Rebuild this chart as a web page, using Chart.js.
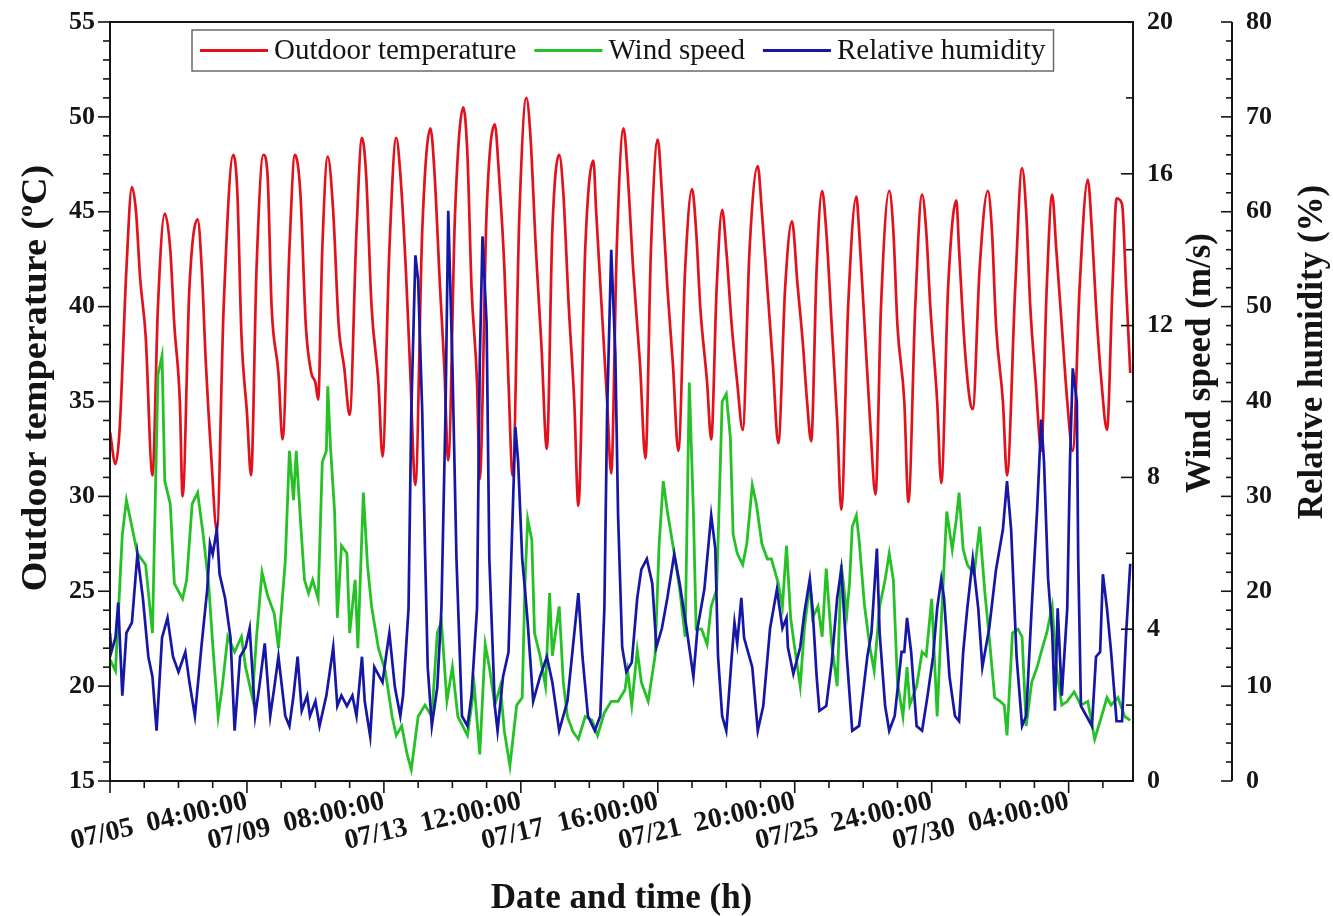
<!DOCTYPE html>
<html>
<head>
<meta charset="utf-8">
<script src="https://cdn.jsdelivr.net/npm/chart.js@4.4.0/dist/chart.umd.min.js"></script>
<style>
  html, body { margin: 0; background: #fff; }
  #wrap { width: 1333px; height: 916px; }
</style>
</head>
<body>
<div id="wrap"><canvas id="climateChart"></canvas></div>
<script>
// hours counted from 07/01 00:00
const xTickHours = [0, 100, 200, 300, 400, 500, 600, 700];
const xTickLabels = ['', '07/05  04:00:00', '07/09  08:00:00', '07/13  12:00:00', '07/17  16:00:00',
                     '07/21  20:00:00', '07/25  24:00:00', '07/30  04:00:00'];

const tempHours = [
  0, 4, 7, 12, 16, 19, 22, 26,
  31, 35, 40, 44, 47, 51,
  53, 58, 64, 67, 70, 74,
  78, 83, 90, 93, 96, 100,
  103, 107, 112, 115, 118, 123,
  126, 131, 135, 139, 143, 147, 150,
  152, 155, 159, 163, 167, 171,
  175, 180, 184, 187, 191, 196,
  199, 204, 209, 212, 216, 219,
  223, 228, 234, 237, 241, 244,
  247, 252, 258, 261, 264, 268,
  270, 275, 281, 284, 288, 291,
  294, 299, 304, 307, 311, 315,
  319, 323, 328, 331, 335, 339,
  342, 347, 353, 355, 359, 363,
  366, 370, 375, 378, 382, 387,
  391, 395, 400, 403, 407, 411,
  415, 420, 425, 428, 431, 436,
  439, 443, 447, 450, 454, 458,
  462, 467, 473, 476, 480, 484,
  488, 493, 498, 502, 506, 509,
  512, 516, 520, 523, 527, 531,
  534, 539, 545, 547, 551, 555,
  559, 563, 569, 572, 575, 580,
  583, 588, 593, 596, 599, 604,
  607, 612, 618, 620, 624, 628,
  630, 635, 641, 644, 647, 652,
  655, 661, 666, 669, 672, 676,
  680, 684, 688, 691, 695, 699,
  703, 708, 714, 717, 720, 724,
  728, 732, 735, 739, 742, 745
];
const tempValues = [
  33.4, 31.7, 33.5, 42, 46.3, 45, 41.5, 38.5,
  31.1, 40, 44.9, 43, 39, 35,
  30.0, 41, 44.6, 42, 37, 32,
  28.2, 40, 48.0, 46, 38.5, 34.4,
  31.1, 42, 48.0, 47, 40, 36.5,
  33.0, 43, 48.0, 46, 39, 36.5, 36,
  35.1, 43, 47.9, 45, 39, 36.8,
  34.3, 44, 48.9, 47, 40, 36,
  32.1, 43, 48.9, 47, 42, 37,
  30.6, 44, 49.4, 47, 41, 37,
  31.9, 45, 50.5, 48, 41, 36,
  30.9, 45, 49.6, 47, 42, 36,
  31.1, 45, 51.0, 49, 43, 38,
  32.5, 44, 48.0, 46, 40, 35,
  29.5, 43, 47.7, 45, 40, 35,
  31.2, 43, 49.4, 47, 42, 37,
  32.0, 43, 48.8, 46, 41, 37,
  32.4, 42, 46.2, 44, 40, 36,
  33.0, 41, 45.1, 43, 39, 36,
  33.5, 43, 47.4, 45, 41, 37,
  32.8, 41, 44.5, 41.2, 38, 35,
  32.9, 42, 46.1, 44, 39, 34,
  29.3, 40, 45.8, 44, 39, 34,
  30.1, 40, 46.1, 44, 39, 35,
  29.7, 40, 45.9, 44, 40, 35,
  30.7, 41, 45.6, 43, 38, 35,
  34.6, 42, 46.1, 44, 39, 35,
  31.1, 41, 47.3, 45, 40, 36,
  32.4, 41, 45.9, 43, 39, 35,
  32.4, 41, 46.7, 44, 40, 36,
  33.5, 41, 45.7, 45.4, 41, 36.5
];

const windHours = [
  0, 4, 9, 12, 16, 20, 26, 31,
  35, 38, 40, 44, 47, 53, 56, 60,
  64, 68, 72, 75, 79, 82, 86, 91,
  96, 99, 104, 107, 111, 115, 120, 123,
  128, 131, 134, 136, 139, 142, 145, 148,
  152, 155, 158, 159, 161, 164, 166, 169,
  173, 175, 179, 181, 185, 188, 191, 196,
  201, 206, 209, 213, 217, 220, 225, 230,
  235, 239, 242, 246, 250, 254, 261, 266,
  270, 274, 277, 281, 285, 288, 292, 297,
  301, 303, 305, 308, 310, 314, 318, 321,
  323, 328, 331, 334, 338, 342, 347, 352,
  356, 361, 366, 371, 376, 378, 381, 385,
  388, 393, 398, 401, 404, 407, 412, 416,
  420, 423, 426, 428, 432, 436, 439, 443,
  447, 450, 453, 455, 458, 462, 465, 469,
  472, 476, 480, 483, 488, 491, 494, 497,
  500, 504, 507, 511, 513, 517, 520, 523,
  527, 531, 534, 538, 540, 542, 545, 547,
  551, 555, 558, 562, 566, 569, 572, 575,
  579, 582, 584, 589, 593, 596, 600, 604,
  607, 611, 615, 618, 620, 623, 626, 631,
  635, 639, 642, 646, 650, 653, 655, 659,
  663, 666, 669, 673, 677, 680, 684, 688,
  691, 695, 699, 704, 709, 714, 719, 724,
  728, 731, 736, 741, 745
];
const windValues = [
  3.2, 2.9, 6.5, 7.4, 6.7, 6.0, 5.7, 3.9,
  10.7, 11.2, 7.9, 7.3, 5.2, 4.8, 5.3, 7.3,
  7.6, 6.5, 5.2, 3.6, 1.7, 2.5, 3.8, 3.4,
  3.8, 3.0, 2.2, 3.8, 5.5, 4.9, 4.4, 3.5,
  5.8, 8.7, 7.4, 8.7, 6.9, 5.3, 4.95, 5.3,
  4.8, 8.4, 8.7, 10.4, 8.8, 7.1, 4.3, 6.2,
  6.0, 3.9, 5.3, 3.5, 7.6, 5.7, 4.6, 3.5,
  2.9, 1.7, 1.2, 1.45, 0.7, 0.3, 1.7, 2.0,
  1.7, 3.9, 4.2, 2.1, 3.0, 1.7, 1.2, 2.5,
  0.7, 3.6, 3.0, 2.0, 2.5, 1.3, 0.4, 2.0,
  2.2, 5.2, 6.9, 6.35, 3.9, 3.3, 2.5, 4.95,
  3.3, 4.6, 2.6, 1.7, 1.3, 1.1, 1.7, 1.6,
  1.2, 1.8, 2.1, 2.1, 2.4, 2.9, 2.0, 3.45,
  2.6, 2.1, 3.3, 6.25, 7.9, 7.1, 6.0, 5.05,
  3.8, 10.5, 7.1, 4.0, 4.0, 3.6, 4.6, 5.05,
  10.0, 10.2, 9.05, 6.5, 6.0, 5.7, 6.25, 7.8,
  7.3, 6.25, 5.85, 5.85, 5.2, 4.6, 6.2, 4.3,
  3.5, 2.5, 4.0, 5.2, 4.3, 4.6, 3.8, 5.6,
  3.6, 2.5, 5.7, 4.4, 5.2, 6.7, 7.0, 6.35,
  4.6, 3.5, 2.9, 4.6, 5.3, 6.0, 5.3, 2.6,
  1.7, 3.0, 2.0, 2.5, 3.4, 3.3, 4.8, 1.7,
  4.2, 7.1, 6.1, 6.9, 7.6, 6.1, 5.7, 5.45,
  6.7, 4.9, 3.8, 2.2, 2.1, 2.0, 1.2, 3.9,
  4.0, 3.8, 1.45, 2.6, 3.0, 3.4, 3.9, 4.6,
  3.0, 2.0, 2.1, 2.35, 2.0, 2.1, 1.1, 1.7,
  2.2, 2.0, 2.2, 1.7, 1.6
];

const rhHours = [
  0, 1, 4, 6, 9, 12, 16, 20,
  24, 28, 31, 34, 38, 42, 46, 50,
  55, 58, 62, 67, 71, 73, 75, 78,
  80, 84, 88, 91, 95, 99, 102, 106,
  109, 113, 117, 120, 123, 128, 131, 134,
  137, 140, 144, 146, 150, 153, 158, 163,
  166, 169, 173, 177, 180, 184, 186, 190,
  193, 199, 202, 204, 208, 212, 214, 218,
  220, 223, 225, 228, 230, 232, 235, 239,
  242, 245, 247, 250, 253, 257, 261, 264,
  268, 270, 272, 275, 277, 281, 283, 287,
  291, 293, 296, 298, 301, 303, 305, 309,
  314, 319, 323, 328, 334, 338, 342, 345,
  349, 354, 358, 361, 363, 366, 369, 371,
  374, 377, 381, 385, 388, 392, 396, 399,
  403, 407, 412, 416, 421, 426, 429, 434,
  439, 442, 444, 447, 450, 454, 456, 458,
  461, 463, 469, 473, 477, 482, 487, 491,
  494, 495, 499, 504, 507, 511, 513, 516,
  518, 523, 527, 531, 534, 538, 542, 547,
  553, 556, 560, 562, 566, 569, 573, 578,
  580, 582, 585, 589, 593, 597, 601, 604,
  607, 609, 613, 617, 620, 623, 626, 630,
  634, 637, 642, 647, 652, 655, 658, 662,
  666, 669, 673, 677, 680, 682, 685, 688,
  690, 692, 695, 699, 701, 703, 706, 707,
  709, 713, 717, 720, 723, 725, 728, 731,
  735, 739, 742, 745
];
const rhValues = [
  15.6, 13.6, 15.1, 18.8, 9.0, 15.6, 16.7, 23.9,
  19.3, 13.1, 11.0, 5.3, 15.1, 17.2, 13.1, 11.5,
  13.6, 10.4, 6.85, 14.5, 20.2, 25.0, 23.9, 26.5,
  21.8, 19.3, 15.1, 5.3, 13.1, 14.1, 16.1, 6.85,
  9.9, 14.5, 6.85, 9.9, 13.1, 6.85, 5.8, 9.0,
  13.1, 7.4, 9.0, 6.85, 8.4, 5.8, 9.0, 14.1,
  7.9, 9.0, 7.9, 9.0, 6.85, 13.1, 8.4, 4.7,
  12.0, 10.4, 13.6, 15.6, 9.9, 6.85, 9.0, 18.2,
  38.9, 55.4, 52.8, 38.9, 24.5, 12.0, 5.8, 9.9,
  18.2, 38.9, 60.1, 44.1, 23.4, 6.85, 5.8, 9.0,
  18.2, 44.1, 57.4, 48.2, 23.4, 7.9, 5.3, 11.0,
  13.6, 23.4, 37.3, 33.7, 23.4, 20.2, 16.7, 8.4,
  11.0, 13.1, 10.4, 5.3, 8.4, 14.1, 19.8, 13.1,
  6.85, 5.3, 6.85, 18.2, 38.9, 56.0, 45, 28,
  14.1, 11.5, 12.5, 19.3, 22.3, 23.4, 20.8, 14.1,
  16.1, 19.3, 23.9, 20.8, 16.1, 11.0, 16.1, 20.2,
  28.0, 24.5, 13.1, 6.85, 5.3, 13.1, 16.7, 14.5,
  19.3, 15.1, 12.0, 5.3, 7.9, 16.1, 20.2, 16.1,
  17.2, 14.1, 11.3, 14.1, 17.7, 21.3, 18.2, 11.0,
  7.4, 7.9, 12.5, 19.3, 22.3, 13.1, 5.3, 5.8,
  13.1, 15.6, 24.5, 15.6, 7.9, 5.3, 6.85, 13.6,
  13.6, 17.2, 13.6, 5.8, 5.3, 9.0, 13.1, 18.2,
  21.3, 19.3, 11.0, 6.85, 6.3, 13.6, 18.2, 23.4,
  18.2, 12.0, 16.1, 22.3, 26.5, 31.6, 26.5, 13.1,
  5.8, 6.85, 18.2, 28.6, 38.1, 33.7, 21.3, 15.6,
  7.4, 18.2, 9.0, 18.2, 33.7, 43.5, 40.0, 23.4,
  7.9, 6.85, 5.8, 13.1, 13.6, 21.8, 18.2, 13.6,
  6.3, 6.3, 15.6, 22.9
];

const SERIF = '"Liberation Serif", "Times New Roman", serif';
const RED = '#e1121c';
const GREEN = '#26c126';
const BLUE = '#1717a6';
const INK = '#141414';

function toPoints(hours, values) {
  return hours.map((h, i) => ({ x: h, y: values[i] }));
}

const tickFont = { family: SERIF, size: 26, weight: 'bold' };

// keep the plot box where it is: no extra room for half-labels at the ends
function noEdgePadding(s) {
  s.paddingTop = 0;
  s.paddingBottom = 0;
  s.paddingLeft = 0;
  s.paddingRight = 0;
}

// frame, inward/outward ticks, rotated titles and the boxed legend
const decorations = {
  id: 'decorations',
  beforeDraw(chart) {
    const ctx = chart.ctx;
    ctx.save();
    ctx.fillStyle = '#fff';
    ctx.fillRect(0, 0, chart.width, chart.height);
    ctx.restore();
  },
  afterDraw(chart) {
    const { ctx, chartArea: a, scales } = chart;
    const line = (x1, y1, x2, y2) => { ctx.beginPath(); ctx.moveTo(x1, y1); ctx.lineTo(x2, y2); ctx.stroke(); };
    ctx.save();
    ctx.strokeStyle = INK;
    ctx.lineWidth = 2;
    ctx.strokeRect(a.left, a.top, a.right - a.left, a.bottom - a.top);

    ctx.lineWidth = 1.6;
    const sx = scales.x;
    for (let v = 0; v <= sx.max; v += 25) {
      const p = sx.getPixelForValue(v);
      line(p, a.bottom, p, a.bottom + (v % 100 === 0 ? 12 : 7));
    }
    const sy = scales.y;
    for (let v = sy.min; v <= sy.max; v += 1) {
      const p = sy.getPixelForValue(v);
      line(a.left - (v % 5 === 0 ? 12 : 7), p, a.left, p);
    }
    const sw = scales.yWind;
    for (let v = sw.min; v <= sw.max; v += 2) {
      const p = sw.getPixelForValue(v);
      line(a.right, p, a.right - (v % 4 === 0 ? 12 : 7), p);
    }
    const sr = scales.yRH;
    const hx = sr.left;
    ctx.lineWidth = 2;
    line(hx, a.top, hx, a.bottom);
    ctx.lineWidth = 1.6;
    for (let v = sr.min; v <= sr.max; v += 2) {
      const p = sr.getPixelForValue(v);
      line(hx - (v % 10 === 0 ? 11 : 6), p, hx, p);
    }

    // axis titles
    ctx.fillStyle = INK;
    ctx.textBaseline = 'alphabetic';
    const bold = 'bold 35px ' + SERIF;
    ctx.font = bold;
    ctx.textAlign = 'center';
    ctx.fillText('Date and time (h)', (a.left + a.right) / 2, 908);

    // left title with superscript o
    ctx.save();
    ctx.translate(46, 378);
    ctx.rotate(-Math.PI / 2);
    ctx.scale(1.09, 1);
    const p1 = 'Outdoor temperature (', p2 = 'C)';
    ctx.font = bold;
    const w1 = ctx.measureText(p1).width, w2 = ctx.measureText(p2).width;
    ctx.font = 'bold 22px ' + SERIF;
    const ws = ctx.measureText('o').width;
    const x0 = -(w1 + ws + w2) / 2;
    ctx.textAlign = 'left';
    ctx.font = bold;
    ctx.fillText(p1, x0, 0);
    ctx.font = 'bold 22px ' + SERIF;
    ctx.fillText('o', x0 + w1, -14);
    ctx.font = bold;
    ctx.fillText(p2, x0 + w1 + ws, 0);
    ctx.restore();

    const vTitle = (text, x, y) => {
      ctx.save();
      ctx.translate(x, y);
      ctx.rotate(-Math.PI / 2);
      ctx.font = bold;
      ctx.textAlign = 'center';
      ctx.fillText(text, 0, 0);
      ctx.restore();
    };
    vTitle('Wind speed (m/s)', a.right + 77, 363);
    vTitle('Relative humidity (%)', hx + 90, 352);

    // legend box inside the plot
    ctx.font = '29px ' + SERIF;
    const sets = chart.data.datasets;
    const lineLen = 68, gapText = 6, gapItem = 18, pad = 8, boxH = 41;
    const widths = sets.map(d => ctx.measureText(d.label).width);
    const boxW = pad * 2 + widths.reduce((s, w) => s + w + lineLen + gapText, 0) + gapItem * (sets.length - 1);
    const bx = a.left + 82, by = a.top + 8;
    ctx.fillStyle = '#fff';
    ctx.fillRect(bx, by, boxW, boxH);
    ctx.strokeStyle = '#6a6a6a';
    ctx.lineWidth = 1.5;
    ctx.strokeRect(bx, by, boxW, boxH);
    let cx = bx + pad;
    const cy = by + boxH / 2;
    ctx.textAlign = 'left';
    ctx.textBaseline = 'middle';
    sets.forEach((d, i) => {
      ctx.strokeStyle = d.borderColor;
      ctx.lineWidth = 3;
      line(cx, cy, cx + lineLen, cy);
      ctx.fillStyle = INK;
      ctx.fillText(d.label, cx + lineLen + gapText, cy + 1);
      cx += lineLen + gapText + widths[i] + gapItem;
    });
    ctx.restore();
  }
};

const ctx = document.getElementById('climateChart').getContext('2d');
const climateChart = new Chart(ctx, {
  type: 'line',
  data: {
    datasets: [{
      label: 'Outdoor temperature',
      data: toPoints(tempHours, tempValues),
      borderColor: RED,
      borderWidth: 2.7,
      pointRadius: 0,
      cubicInterpolationMode: 'monotone',
      yAxisID: 'y',
      order: 2
    }, {
      label: 'Wind speed',
      data: toPoints(windHours, windValues),
      borderColor: GREEN,
      borderWidth: 2.8,
      pointRadius: 0,
      tension: 0,
      yAxisID: 'yWind',
      order: 1
    }, {
      label: 'Relative humidity',
      data: toPoints(rhHours, rhValues),
      borderColor: BLUE,
      borderWidth: 2.7,
      pointRadius: 0,
      tension: 0,
      yAxisID: 'yRH',
      order: 0
    }]
  },
  options: {
    responsive: true,
    maintainAspectRatio: false,
    animation: false,
    devicePixelRatio: 1,
    layout: { padding: { top: 22, left: 0, right: 0, bottom: 0 } },
    scales: {
      x: {
        type: 'linear',
        min: 0,
        max: 747,
        afterBuildTicks: s => { s.ticks = xTickHours.map(v => ({ value: v })); },
        afterFit: s => { s.height = 135; noEdgePadding(s); },
        grid: { display: false, drawTicks: false },
        border: { display: false },
        ticks: {
          autoSkip: false,
          minRotation: 13,
          maxRotation: 13,
          padding: 4,
          color: INK,
          font: { family: SERIF, size: 28, weight: 'bold' },
          callback: v => xTickLabels[xTickHours.indexOf(v)] || ''
        }
      },
      y: {
        position: 'left',
        min: 15,
        max: 55,
        afterFit: s => { s.width = 110; noEdgePadding(s); },
        grid: { display: false, drawTicks: false },
        border: { display: false },
        ticks: { stepSize: 5, padding: 15, color: INK, font: tickFont }
      },
      yWind: {
        position: 'right',
        weight: 1,
        min: 0,
        max: 20,
        afterFit: s => { s.width = 99; noEdgePadding(s); },
        grid: { display: false, drawTicks: false },
        border: { display: false },
        ticks: { stepSize: 4, padding: 14, color: INK, font: tickFont }
      },
      yRH: {
        position: 'right',
        weight: 2,
        min: 0,
        max: 80,
        afterFit: s => { s.width = 101; noEdgePadding(s); },
        grid: { display: false, drawTicks: false },
        border: { display: false },
        ticks: { stepSize: 10, padding: 14, color: INK, font: tickFont }
      }
    },
    plugins: {
      legend: { display: false },
      tooltip: { enabled: false }
    }
  },
  plugins: [decorations]
});
</script>
</body>
</html>
